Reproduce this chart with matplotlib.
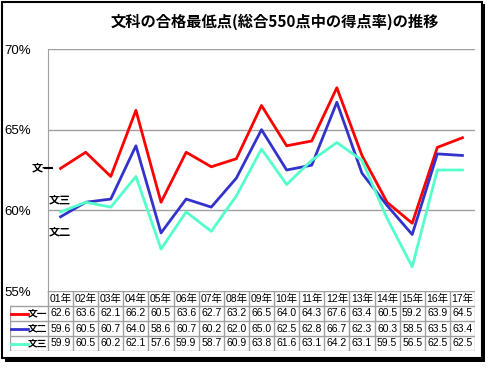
import matplotlib.pyplot as plt
from matplotlib.patches import Rectangle

plt.rcParams['font.family'] = ['Liberation Sans', 'Noto Sans CJK JP', 'DejaVu Sans']
JP = ['Noto Sans CJK JP', 'DejaVu Sans']

years = ['01年', '02年', '03年', '04年', '05年', '06年', '07年', '08年', '09年',
         '10年', '11年', '12年', '13年', '14年', '15年', '16年', '17年']
bun1 = [62.6, 63.6, 62.1, 66.2, 60.5, 63.6, 62.7, 63.2, 66.5, 64.0, 64.3, 67.6, 63.4, 60.5, 59.2, 63.9, 64.5]
bun2 = [59.6, 60.5, 60.7, 64.0, 58.6, 60.7, 60.2, 62.0, 65.0, 62.5, 62.8, 66.7, 62.3, 60.3, 58.5, 63.5, 63.4]
bun3 = [59.9, 60.5, 60.2, 62.1, 57.6, 59.9, 58.7, 60.9, 63.8, 61.6, 63.1, 64.2, 63.1, 59.5, 56.5, 62.5, 62.5]
names = ['文一', '文二', '文三']
colors = ['#ff0000', '#3333cc', '#55ffcc']

W, H = 491, 370
fig = plt.figure(figsize=(W / 100, H / 100), dpi=100)

# outer frame with shadow
fig.patches.append(Rectangle((5 / W, 1 - 362 / H), 480 / W, 358 / H, transform=fig.transFigure,
                             facecolor='black', edgecolor='none', zorder=-3))
fig.patches.append(Rectangle((2 / W, 1 - 358 / H), 480 / W, 356 / H, transform=fig.transFigure,
                             facecolor='white', edgecolor='black', linewidth=1.5, zorder=-2))

left, right, top, bottom = 48, 475, 49, 291
ax = fig.add_axes([left / W, 1 - bottom / H, (right - left) / W, (bottom - top) / H])
ax.set_facecolor('none')
x = [i + 0.5 for i in range(len(years))]
for vals, c in zip([bun1, bun2, bun3], colors):
    ax.plot(x, vals, color=c, linewidth=2, zorder=3)
ax.set_xlim(0, len(years))
ax.set_ylim(55, 70)
ax.set_yticks([55, 60, 65, 70])
ax.set_yticklabels(['55%', '60%', '65%', '70%'], fontsize=9.5)
ax.tick_params(axis='y', length=0, pad=12)
ax.set_xticks([])
for y in [60, 65, 70]:
    ax.axhline(y, color='#a0a0a0', linewidth=1, zorder=1)
for s in ['top', 'right', 'bottom']:
    ax.spines[s].set_visible(False)
ax.spines['left'].set_color('#a0a0a0')

fig.text(275 / W, 1 - 22 / H, '文科の合格最低点(総合550点中の得点率)の推移', ha='center', va='center',
         fontsize=11, fontweight='bold', family=JP)

# series labels on the left
fig.text(32 / W, 1 - 168 / H, '文一', ha='left', va='center', fontsize=8, fontweight='bold', family=JP)
fig.lines.append(plt.Line2D([44 / W, 52 / W], [1 - 168 / H, 1 - 168 / H], transform=fig.transFigure,
                            color='black', linewidth=0.8))
fig.text(49 / W, 1 - 200 / H, '文三', ha='left', va='center', fontsize=8, fontweight='bold', family=JP)
fig.text(49 / W, 1 - 232 / H, '文二', ha='left', va='center', fontsize=8, fontweight='bold', family=JP)

# data table
tl, tb = 10, 351
cw = (right - left) / len(years)
lab_w = (left - tl) / cw
tax = fig.add_axes([tl / W, 1 - tb / H, (right - tl) / W, (tb - bottom) / H])
tax.set_xlim(-lab_w, len(years))
tax.set_ylim(0, 4)
tax.axis('off')
gc = '#a0a0a0'
for r in range(5):
    x0 = 0 if r == 4 else -lab_w
    tax.plot([x0, len(years)], [r, r], color=gc, linewidth=1)
for i in range(len(years) + 1):
    tax.plot([i, i], [0, 4], color=gc, linewidth=1)
tax.plot([-lab_w, -lab_w], [0, 3], color=gc, linewidth=1)
for i, yr in enumerate(years):
    tax.text(i + 0.5, 3.5, yr, ha='center', va='center', fontsize=7.5)
for r, (vals, c, n) in enumerate(zip([bun1, bun2, bun3], colors, names)):
    yc = 2.5 - r
    tax.plot([-lab_w + 0.05, -lab_w + 0.7], [yc, yc], color=c, linewidth=2)
    tax.text(-lab_w + 0.72, yc, n, ha='left', va='center', fontsize=7, fontweight='bold', family=JP)
    for i, v in enumerate(vals):
        tax.text(i + 0.5, yc, f'{v:.1f}', ha='center', va='center', fontsize=7.5)

fig.savefig('out.png', dpi=100)
